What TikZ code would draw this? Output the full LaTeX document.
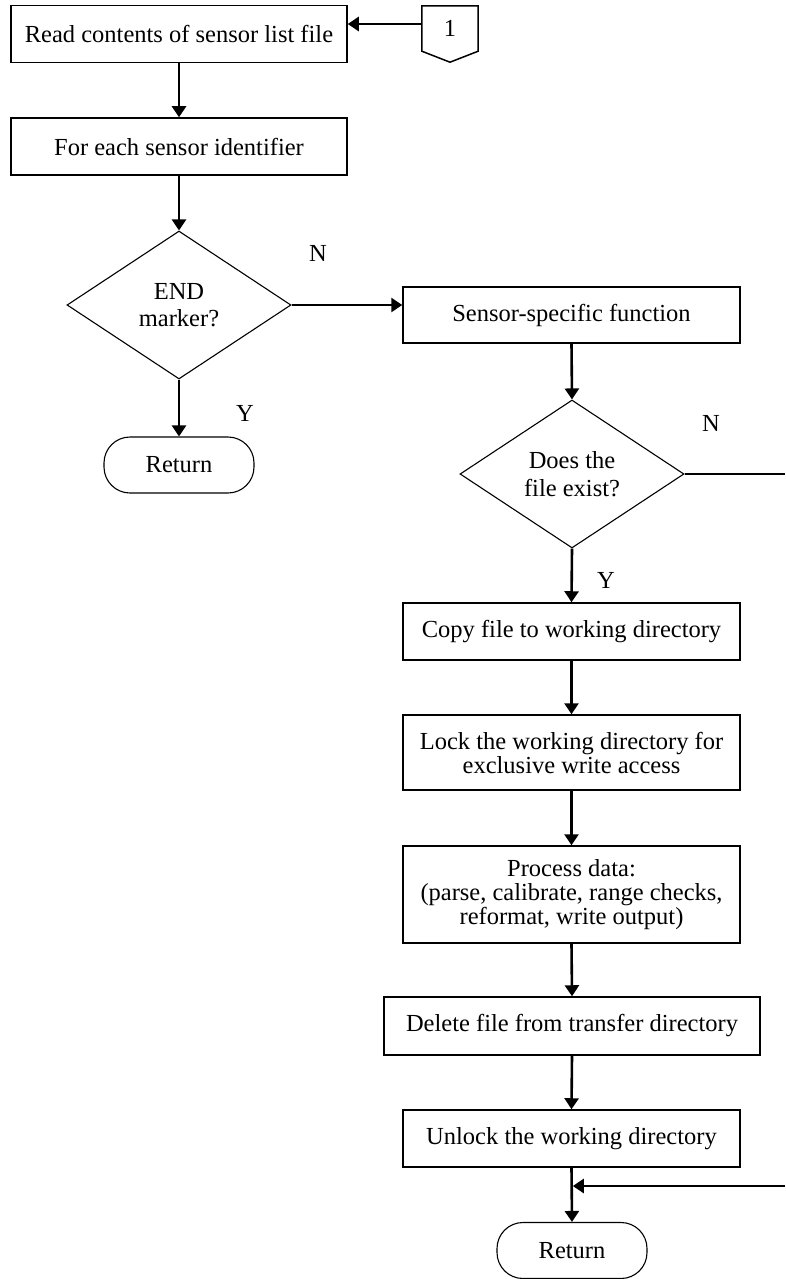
\documentclass[tikz,border=0pt]{standalone}
\usepackage{fontspec}
\setmainfont{Liberation Serif}
\usetikzlibrary{arrows.meta,shapes.geometric,calc}

\begin{document}
\begin{tikzpicture}[x=1pt,y=-1pt,
  every node/.style={font=\fontsize{24.5}{24}\selectfont, inner sep=0pt},
  procbox/.style={draw, line width=1.5pt, rectangle, minimum height=57pt, align=center},
  decision/.style={draw, line width=1.1pt, diamond, minimum width=224pt, minimum height=148pt, align=center, font=\fontsize{24.5}{27.5}\selectfont},
  terminal/.style={draw, line width=1.1pt, rectangle, rounded corners=26pt, minimum width=150pt, minimum height=56pt},
  flow/.style={line width=2.6pt, -{Triangle[length=11pt,width=14pt]}},
  plainline/.style={line width=1.6pt},
  branch/.style={font=\fontsize{24.5}{24}\selectfont}
]
\useasboundingbox (0,0) rectangle (785,1279);

% left column
\node[procbox, minimum width=336pt] (read) at (179,34) {Read contents of sensor list file};
\node[minimum width=56pt, minimum height=45pt] (conn) at (450,28.5) {1};
\draw[line width=1.5pt] (conn.north west) -- (conn.north east) -- (conn.south east)
  -- ($(conn.south)+(0,11)$) -- (conn.south west) -- cycle;
\node[procbox, minimum width=336pt] (each) at (179,146.5) {For each sensor identifier};
\node[decision] (endq) at (179,305) {END\\marker?};
\node[terminal] (ret1) at (179,465) {Return};

% right column
\node[procbox, minimum width=337pt, minimum height=56pt] (sensor) at (571.5,315) {Sensor-specific function};
\node[decision] (exist) at (572,474) {Does the\\file exist?};
\node[procbox, minimum width=337pt] (copy) at (571.5,631.5) {Copy file to working directory};
\node[procbox, minimum width=337pt, minimum height=75pt] (lock) at (571.5,752.5) {Lock the working directory for\\exclusive write access};
\node[procbox, minimum width=337pt, minimum height=97pt] (proc) at (571.5,894.5) {Process data:\\(parse, calibrate, range checks,\\reformat, write output)};
\node[procbox, minimum width=376pt, minimum height=58pt] (del) at (572,1026) {Delete file from transfer directory};
\node[procbox, minimum width=337pt] (unlock) at (571.5,1138.5) {Unlock the working directory};
\node[terminal] (ret2) at (572,1250.5) {Return};

% branch labels
\node[branch] at (318,253) {N};
\node[branch] at (245,413) {Y};
\node[branch] at (711,423) {N};
\node[branch] at (606,580) {Y};

% connectors
\coordinate (cin) at ([yshift=4.5pt]conn.west);
\draw[flow] (cin) -- (cin -| read.east);
\draw[flow] (read.south) -- (each.north);
\draw[flow] (each.south) -- (endq.north);
\draw[flow] (endq.east) -- (sensor.west |- endq.east);
\draw[flow] (endq.south) -- (ret1.north);
\draw[flow] (sensor.south) -- (exist.north);
\coordinate (edgeA) at (785,474);
\draw[plainline] (exist.east) -- (edgeA);
\draw[flow] (exist.south) -- (copy.north);
\draw[flow] (copy.south) -- (lock.north);
\draw[flow] (lock.south) -- (proc.north);
\draw[flow] (proc.south) -- (del.north);
\draw[flow] (del.south) -- (unlock.north);
\draw[flow] (unlock.south) -- (ret2.north);
\coordinate (edgeB) at (785,1186);
\coordinate (join) at (unlock.south |- edgeB);
\draw[flow] (edgeB) -- ([xshift=1.3pt]join);
\end{tikzpicture}
\end{document}
